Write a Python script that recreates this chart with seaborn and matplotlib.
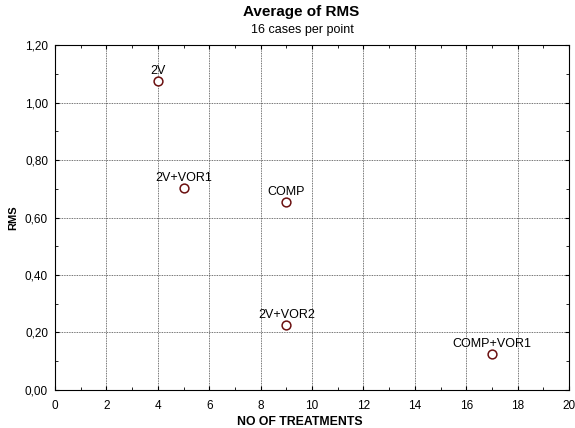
import matplotlib
matplotlib.use("Agg")
import matplotlib.pyplot as plt
import seaborn as sns
import pandas as pd
from matplotlib.ticker import MultipleLocator, FuncFormatter

labels = ["2V", "2V+VOR1", "COMP", "2V+VOR2", "COMP+VOR1"]
treatments = [4, 5, 9, 9, 17]
rms = [1.075, 0.703, 0.654, 0.226, 0.125]

df = pd.DataFrame({"NO OF TREATMENTS": treatments, "RMS": rms, "label": labels})

sns.set_style("white")
plt.rcParams['font.family'] = ['Liberation Sans', 'DejaVu Sans']
plt.rcParams.update({"text.color": "black", "axes.labelcolor": "black",
                     "xtick.color": "black", "ytick.color": "black"})

fig = plt.figure(figsize=(5.75, 4.28), dpi=100)
ax = fig.add_axes([0.0957, 0.0888, 0.894, 0.806])

sns.scatterplot(data=df, x="NO OF TREATMENTS", y="RMS", ax=ax, s=40,
                facecolor="white", edgecolor="#6b1010", linewidth=1.1, zorder=3)

for x, y, t in zip(treatments, rms, labels):
    ax.annotate(t, (x, y), xytext=(0, 3), textcoords="offset points",
                ha="center", va="bottom", fontsize=9, color="black", zorder=4)

ax.set_xlim(0, 20)
ax.set_ylim(0, 1.2)
ax.xaxis.set_major_locator(MultipleLocator(2))
ax.xaxis.set_minor_locator(MultipleLocator(1))
ax.yaxis.set_major_locator(MultipleLocator(0.2))
ax.yaxis.set_minor_locator(MultipleLocator(0.1))
ax.yaxis.set_major_formatter(FuncFormatter(lambda v, p: f"{v:.2f}".replace(".", ",")))
ax.xaxis.set_major_formatter(FuncFormatter(lambda v, p: f"{v:.0f}"))
ax.grid(True, which="major", linestyle=(0, (1, 1)), color="#444444", linewidth=0.6)
ax.tick_params(which="both", direction="in", labelsize=8.5, length=3, color="black",
               bottom=True, left=True, top=True, right=True)
ax.tick_params(which="minor", length=2)
ax.tick_params(axis="x", pad=7)
ax.tick_params(axis="y", pad=5)
for s in ax.spines.values():
    s.set_color("black")
    s.set_linewidth(0.8)

ax.set_xlabel("NO OF TREATMENTS", fontsize=8.8, fontweight="bold")
ax.xaxis.set_label_coords(0.477, -0.093)
ax.xaxis.label.set_va("center")
ax.set_ylabel("RMS", fontsize=8, fontweight="bold", labelpad=5)

fig.text(0.524, 0.971, "Average of RMS", ha="center", va="center", fontsize=11, fontweight="bold")
fig.text(0.526, 0.929, "16 cases per point", ha="center", va="center", fontsize=9)

fig.savefig("out.png", dpi=100, facecolor="white")
